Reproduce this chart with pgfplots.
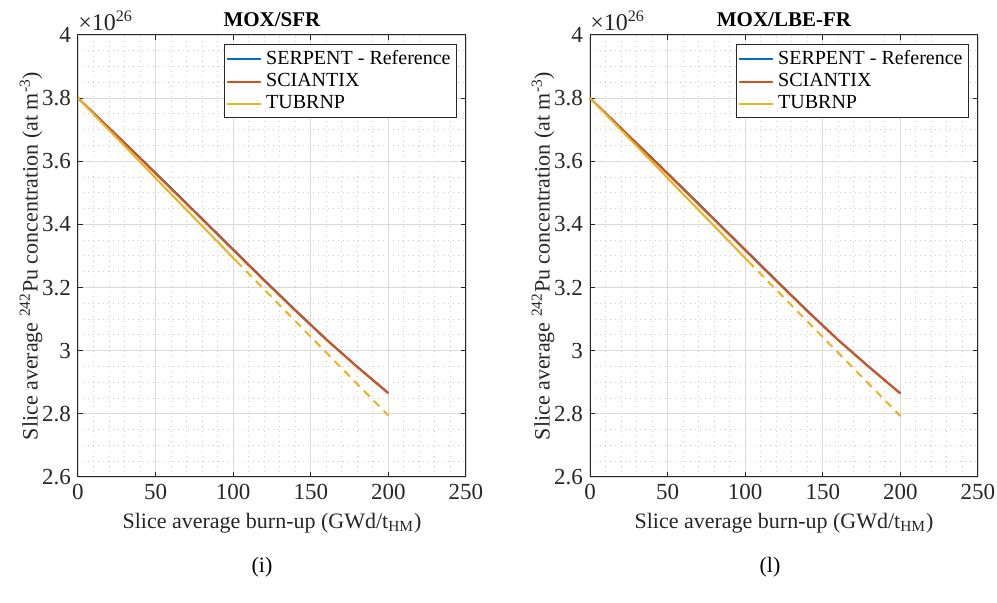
\documentclass[border=0pt]{standalone}
\usepackage{fontspec}
\setmainfont{Liberation Serif}
\usepackage{pgfplots}
\pgfplotsset{compat=1.18}
\definecolor{mBlue}{rgb}{0,0.447,0.741}
\definecolor{mRed}{rgb}{0.85,0.325,0.098}
\definecolor{mYel}{rgb}{0.929,0.694,0.125}
\definecolor{axgray}{HTML}{262626}

\pgfplotsset{
  mlab/.style={
    scale only axis, width=194pt, height=221pt, clip=false,
    xmin=0, xmax=250, ymin=2.6, ymax=4,
    xtick={0,50,100,150,200,250},
    ytick={2.6,2.8,3,3.2,3.4,3.6,3.8,4},
    minor x tick num=4, minor y tick num=3,
    grid=both,
    major grid style={line width=0.6pt, black!15},
    minor grid style={line width=0.5pt, black!20, dotted},
    tick align=inside, major tick length=2.5pt, minor tick length=0pt,
    axis line style={axgray, line width=0.5pt},
    tick style={axgray, line width=0.5pt},
    ticklabel style={font=\fontsize{11.5}{13}\selectfont, text=axgray},
    /pgf/number format/assume math mode=true,
    label style={font=\fontsize{11}{13}\selectfont, text=axgray},
    ylabel style={yshift=-7pt},
    xlabel style={yshift=0pt},
    xlabel={Slice average burn-up (GWd/t\textsubscript{HM})},
    ylabel={Slice average \textsuperscript{242}Pu concentration (at m\textsuperscript{-3})},
    legend style={at={(rel axis cs:0.977,0.979)}, anchor=north east,
      draw=axgray, line width=0.5pt, fill=white,
      font=\fontsize{10}{11}\selectfont, inner xsep=1pt, inner ysep=0.8pt,
      row sep=-1pt},
    legend cell align=left,
    legend image code/.code={\draw[#1, line width=1pt] (0pt,0pt) -- (17pt,0pt);},
  }
}

\begin{document}
\begin{tikzpicture}
\path[use as bounding box] (-39pt,-63pt) rectangle (459.5pt,238.5pt);

\begin{axis}[mlab, at={(0pt,0pt)}, anchor=south west]
\addplot[mBlue, line width=1pt] coordinates {
 (0,3.800) (20,3.706) (40,3.611) (60,3.515) (80,3.418) (100,3.321)
 (120,3.224) (140,3.129) (160,3.036) (180,2.949) (200,2.866)};
\addlegendentry{SERPENT - Reference}
\addplot[mRed, line width=1pt] coordinates {
 (0,3.800) (20,3.705) (40,3.609) (60,3.513) (80,3.416) (100,3.319)
 (120,3.222) (140,3.127) (160,3.035) (180,2.948) (200,2.865)};
\addlegendentry{SCIANTIX}
\addplot[mYel, line width=1pt] coordinates {
 (0,3.800) (20,3.699) (40,3.598) (60,3.496) (80,3.395) (102,3.284)};
\addlegendentry{TUBRNP}
\addplot[mYel, line width=1pt, dash pattern=on 4pt off 3pt, forget plot] coordinates {
 (102,3.284) (120,3.194) (140,3.094) (160,2.994) (180,2.894) (200,2.795)};
\node[anchor=south west, inner sep=0pt, text=axgray, font=\fontsize{12}{13}\selectfont]
  at (rel axis cs:0,1) [yshift=2pt] {×10\textsuperscript{26}};
\node[anchor=base, inner sep=0pt, font=\bfseries\fontsize{10.5}{12}\selectfont]
  at (rel axis cs:0.5,1) [yshift=4pt] {MOX/SFR};
\end{axis}

\begin{axis}[mlab, at={(256pt,0pt)}, anchor=south west]
\addplot[mBlue, line width=1pt] coordinates {
 (0,3.800) (20,3.705) (40,3.610) (60,3.514) (80,3.417) (100,3.320)
 (120,3.223) (140,3.127) (160,3.034) (180,2.948) (200,2.865)};
\addlegendentry{SERPENT - Reference}
\addplot[mRed, line width=1pt] coordinates {
 (0,3.800) (20,3.704) (40,3.608) (60,3.512) (80,3.415) (100,3.318)
 (120,3.221) (140,3.125) (160,3.033) (180,2.947) (200,2.864)};
\addlegendentry{SCIANTIX}
\addplot[mYel, line width=1pt] coordinates {
 (0,3.800) (20,3.699) (40,3.598) (60,3.496) (80,3.395) (102,3.283)};
\addlegendentry{TUBRNP}
\addplot[mYel, line width=1pt, dash pattern=on 4pt off 3pt, forget plot] coordinates {
 (102,3.283) (120,3.193) (140,3.093) (160,2.993) (180,2.893) (200,2.793)};
\node[anchor=south west, inner sep=0pt, text=axgray, font=\fontsize{12}{13}\selectfont]
  at (rel axis cs:0,1) [yshift=2pt] {×10\textsuperscript{26}};
\node[anchor=base, inner sep=0pt, font=\bfseries\fontsize{10.5}{12}\selectfont]
  at (rel axis cs:0.5,1) [yshift=4pt] {MOX/LBE-FR};
\end{axis}

\node[font=\fontsize{11}{13}\selectfont] at (92pt,-45pt) {(i)};
\node[font=\fontsize{11}{13}\selectfont] at (346pt,-45pt) {(l)};
\end{tikzpicture}
\end{document}
